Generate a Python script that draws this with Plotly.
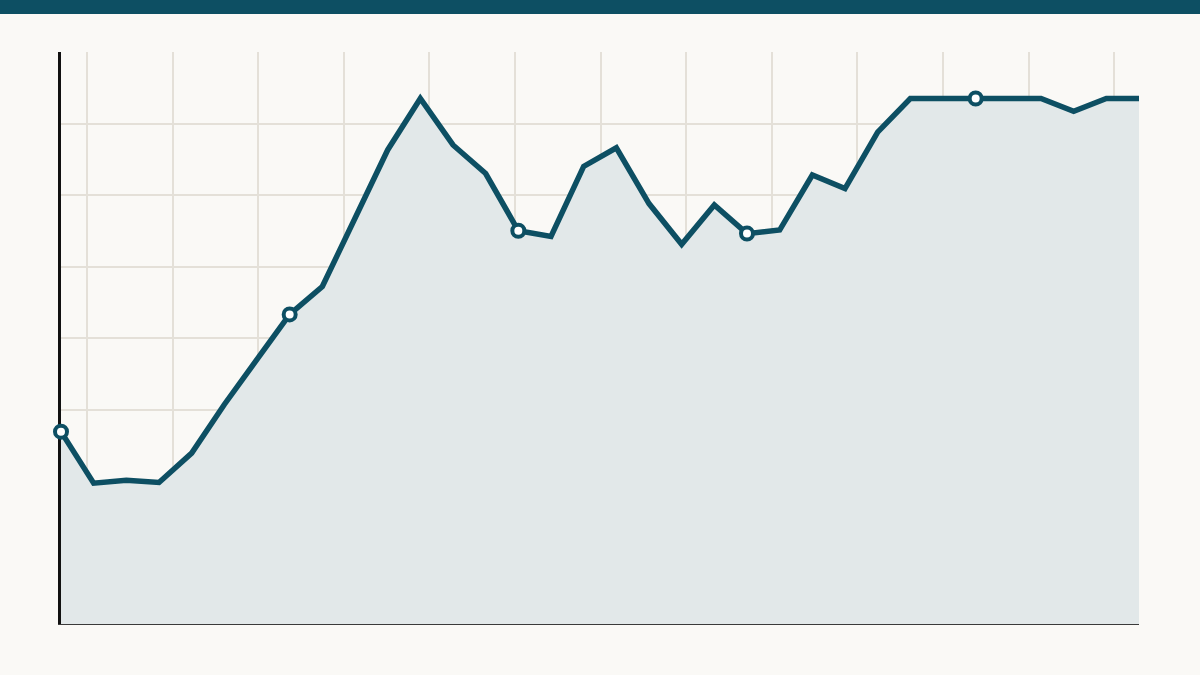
import plotly.graph_objects as go

# daily values (34 days), weekly points get a marker
days = list(range(34))
values = [26.9, 19.7, 20.1, 19.8, 23.9, 30.7, 37.0, 43.3, 47.2, 56.8,
          66.3, 73.5, 67.0, 63.0, 55.0, 54.2, 64.0, 66.6, 58.8, 53.1,
          58.6, 54.6, 55.1, 62.8, 60.9, 68.8, 73.5, 73.5, 73.5, 73.5,
          73.5, 71.7, 73.5, 73.5]
marker_step = 7

# grid lines (axis units)
x_grid = [0.8 + 2.62 * k for k in range(13)]
y_grid = [10, 20, 30, 40, 50, 60, 70]

DARK = "#0d4f63"
FILL = "#e2e8e9"
BG = "#faf9f6"
GRID = "#e4e0d8"

W, H = 1200, 675
ML, MR, MT, MB = 61, 61, 52, 51

fig = go.Figure()

fig.add_trace(go.Scatter(
    x=days, y=values, mode="lines",
    line=dict(color=DARK, width=5.5),
    fill="tozeroy", fillcolor=FILL,
    hoverinfo="skip",
))

fig.add_trace(go.Scatter(
    x=days[::marker_step], y=values[::marker_step], mode="markers",
    marker=dict(size=12, color="white", line=dict(color=DARK, width=4)),
    cliponaxis=False,
    hoverinfo="skip",
))

# dark band along the top of the page
plot_h = H - MT - MB
fig.add_shape(type="rect", xref="paper", yref="paper",
              x0=-1, x1=2, y0=1 + (MT - 14) / plot_h, y1=1 + MT / plot_h + 0.01,
              fillcolor=DARK, line_width=0, layer="above")

fig.update_layout(
    width=W, height=H,
    margin=dict(l=ML, r=MR, t=MT, b=MB),
    paper_bgcolor=BG, plot_bgcolor=BG,
    showlegend=False,
)

fig.update_xaxes(
    range=[0, 33], tickmode="array", tickvals=x_grid,
    showticklabels=False, ticks="",
    showgrid=True, gridcolor=GRID, gridwidth=2,
    zeroline=False,
    showline=True, linecolor="#3a3a3a", linewidth=1,
)
fig.update_yaxes(
    range=[0, 80], tickmode="array", tickvals=y_grid,
    showticklabels=False, ticks="",
    showgrid=True, gridcolor=GRID, gridwidth=2,
    zeroline=False,
    showline=True, linecolor="#111111", linewidth=3,
    layer="below traces",
)

# drop the page's default body margin so the figure sits at the window corner
fig.write_html("out.html", config={"staticPlot": True},
               post_script="document.body.style.margin='0';"
                           "document.body.style.overflow='hidden';"
                           "document.body.style.background='" + BG + "';")
